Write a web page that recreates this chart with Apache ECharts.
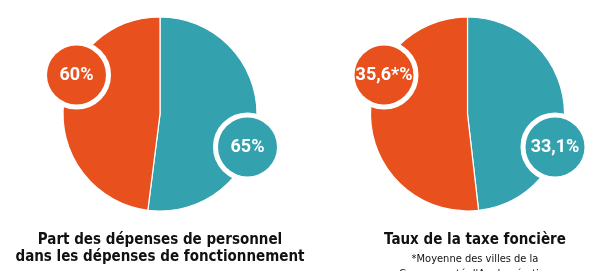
<!DOCTYPE html>
<html>
<head>
<meta charset="utf-8">
<script src="https://cdn.jsdelivr.net/npm/echarts@6/dist/echarts.min.js"></script>
<style>
html,body{margin:0;padding:0;background:#fff;}
#chart{width:606px;height:271px;}
</style>
</head>
<body>
<div id="chart"></div>
<script>
// Data
const categories = ['Ville', 'Référence'];
const personnelValues = [65, 60];          // teal, orange
const personnelLabels = ['65%', '60%'];
const taxeValues = [33.1, 35.6];           // teal, orange
const taxeLabels = ['33,1%', '35,6*%'];
const titles = ['Part des dépenses de personnel\ndans les dépenses de fonctionnement', 'Taux de la taxe foncière'];
const subtitle = "*Moyenne des villes de la\nCommunauté d'Agglomération";

const colors = ['#34A1AE', '#E8511D'];
const pieCenters = [[160, 114], [467.5, 114]];
const pieRadius = 97;
const labelOffsets = [[87.5, 33], [-83.5, -39]];
const titleFont = '"DejaVu Sans Condensed", Roboto, sans-serif';

const chart = echarts.init(document.getElementById('chart'), null, {renderer: 'canvas'});

function makeSeries(idx, values, labels) {
  const c = pieCenters[idx];
  return {
    type: 'pie',
    center: c,
    radius: pieRadius,
    startAngle: 90,
    clockwise: true,
    silent: true,
    animation: false,
    itemStyle: {borderColor: '#fff', borderWidth: 1.2},
    labelLine: {show: false},
    label: {
      show: true,
      position: 'inside',
      formatter: (p) => labels[p.dataIndex],
      color: '#fff',
      fontFamily: 'Roboto',
      fontWeight: 'bold',
      fontSize: 18,
      width: 59,
      height: 59,
      lineHeight: 59,
      align: 'center',
      verticalAlign: 'middle',
      borderColor: '#fff',
      borderWidth: 5,
      borderRadius: 32
    },
    labelLayout: (p) => ({
      x: c[0] + labelOffsets[p.dataIndex][0],
      y: c[1] + labelOffsets[p.dataIndex][1],
      align: 'center',
      verticalAlign: 'middle'
    }),
    data: values.map((v, i) => ({
      name: categories[i],
      value: v,
      itemStyle: {color: colors[i]},
      label: {backgroundColor: colors[i]}
    }))
  };
}

chart.setOption({
  backgroundColor: '#fff',
  animation: false,
  title: [
    {
      text: titles[0],
      left: 160,
      top: 232,
      textAlign: 'center',
      padding: 0,
      textStyle: {fontFamily: titleFont, fontWeight: 'bold', fontSize: 15, lineHeight: 17, color: '#111'}
    },
    {
      text: titles[1],
      subtext: subtitle,
      left: 475,
      top: 232,
      textAlign: 'center',
      padding: 0,
      itemGap: 3,
      textStyle: {fontFamily: titleFont, fontWeight: 'bold', fontSize: 15, lineHeight: 17, color: '#111'},
      subtextStyle: {fontFamily: titleFont, fontSize: 11, lineHeight: 15, color: '#111'}
    }
  ],
  series: [
    makeSeries(0, personnelValues, personnelLabels),
    makeSeries(1, taxeValues, taxeLabels)
  ]
});
</script>
</body>
</html>
